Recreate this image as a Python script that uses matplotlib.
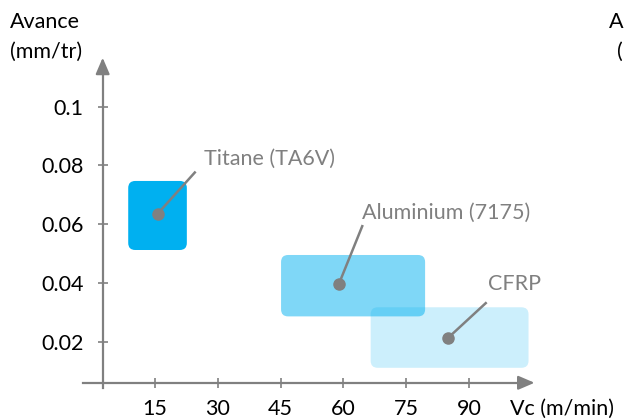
import matplotlib
matplotlib.use("Agg")
import matplotlib.pyplot as plt
from matplotlib.patches import FancyBboxPatch

plt.rcParams['font.family'] = ['Lato', 'DejaVu Sans']

# ---- data ----
materials = ["Titane (TA6V)", "Aluminium (7175)", "CFRP"]
vc_min = [8.6, 45.1, 66.5]
vc_max = [22.6, 79.5, 104.2]
f_min = [0.0512, 0.0286, 0.0111]
f_max = [0.0747, 0.0495, 0.0317]
dot_vc = [15.6, 58.9, 85.0]
dot_f = [0.0635, 0.0396, 0.0213]
x_ticks = [15, 30, 45, 60, 75, 90]
y_ticks = [0.02, 0.04, 0.06, 0.08, 0.1]
y_tick_labels = ["0.02", "0.04", "0.06", "0.08", "0.1"]

# ---- layout / style ----
leader_end_vc = [24.7, 64.6, 94.2]
leader_end_f = [0.0779, 0.0597, 0.0334]
label_vc = [26.7, 64.4, 94.6]
label_f = [0.0822, 0.0638, 0.0396]
alphas = [1.0, 0.5, 0.2]
base_color = "#00B0F0"
gray = "#808080"
FS = 15.5

W, H = 624, 419
fig = plt.figure(figsize=(W / 100, H / 100), dpi=100)
ax = fig.add_axes([0, 0, 1, 1])
ax.set_xlim(-22.02, 127.0)
ax.set_ylim(-0.00633, 0.1363)
ax.patch.set_alpha(0)

x_axis_y = 0.006
y_axis_x = 2.5

for s in ["top", "right"]:
    ax.spines[s].set_visible(False)
ax.spines["left"].set_position(("data", y_axis_x))
ax.spines["bottom"].set_position(("data", x_axis_y))
ax.spines["left"].set_bounds(0.0042, 0.114)
ax.spines["bottom"].set_bounds(-2.2, 103)
for s in ["left", "bottom"]:
    ax.spines[s].set_color(gray)
    ax.spines[s].set_linewidth(1.6)

ax.set_xticks(x_ticks)
ax.set_xticklabels([str(t) for t in x_ticks])
ax.set_yticks(y_ticks)
ax.set_yticklabels(y_tick_labels)
ax.tick_params(axis="both", direction="inout", length=7.5, width=1.2,
               color=gray, labelsize=FS, labelcolor="black")
ax.tick_params(axis="x", pad=8)
ax.tick_params(axis="y", pad=10)

# arrow heads
ax.annotate("", xy=(106.3, x_axis_y), xytext=(101, x_axis_y),
            arrowprops=dict(arrowstyle="-|>,head_length=0.7,head_width=0.3",
                            color=gray, lw=1.6, mutation_scale=14))
ax.annotate("", xy=(y_axis_x, 0.1176), xytext=(y_axis_x, 0.112),
            arrowprops=dict(arrowstyle="-|>,head_length=0.7,head_width=0.3",
                            color=gray, lw=1.6, mutation_scale=14))

# rectangles
rx = 7 / 4.187
ry = 7 / 2937.5
for i in range(len(materials)):
    p = FancyBboxPatch((vc_min[i], f_min[i]), vc_max[i] - vc_min[i], f_max[i] - f_min[i],
                       boxstyle=f"round,pad=0,rounding_size={rx}",
                       mutation_aspect=ry / rx,
                       facecolor=base_color, alpha=alphas[i], edgecolor="none", zorder=2)
    ax.add_patch(p)

for i in range(len(materials)):
    ax.plot([dot_vc[i], leader_end_vc[i]], [dot_f[i], leader_end_f[i]],
            color=gray, lw=1.8, zorder=4, solid_capstyle="butt")
    ax.plot(dot_vc[i], dot_f[i], "o", color=gray, ms=8, zorder=5)
    ax.text(label_vc[i], label_f[i], materials[i], color=gray, fontsize=FS,
            ha="left", va="center", zorder=6)

# axis titles
fig.text(10 / W, 1 - 22 / H, "Avance", fontsize=FS, ha="left", va="center")
fig.text(10 / W, 1 - 52 / H, "(mm/tr)", fontsize=FS, ha="left", va="center")
fig.text(510 / W, 1 - 409 / H, "Vc (m/min)", fontsize=FS, ha="left", va="center")
# neighbour title, cropped in the reference: show its first glyphs at the right edge
fig.text(623 / W, 1 - 22 / H, "A", fontsize=FS, ha="right", va="center")
fig.text(623 / W, 1 - 52 / H, "(", fontsize=FS, ha="right", va="center")

fig.savefig("out.png", dpi=100)
